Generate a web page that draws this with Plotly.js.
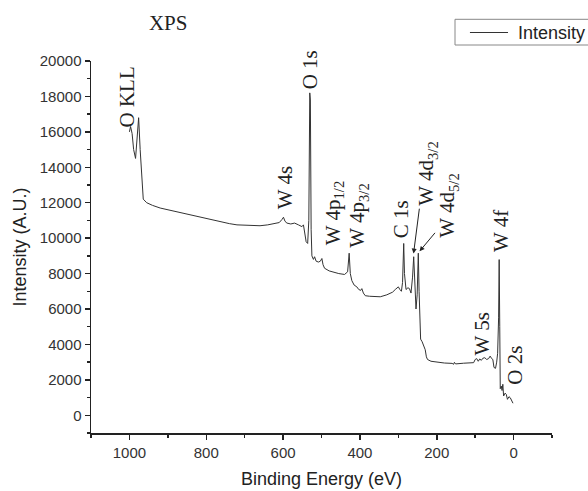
<!DOCTYPE html>
<html>
<head>
<meta charset="utf-8">
<script src="https://cdn.plot.ly/plotly-3.0.1.min.js"></script>
<style>html,body{margin:0;padding:0;background:#fff;}#chart{width:588px;height:491px;}</style>
</head>
<body>
<div id="chart"></div>
<script>
// Binding energy (eV) and intensity (A.U.)
const bindingEnergy = [
  1000, 997, 993, 989, 984, 980, 976, 972, 967, 964,
  955, 940, 920, 900, 880, 860, 840, 820, 800, 780,
  760, 740, 720, 700, 680, 660, 640, 620, 610, 603,
  599, 595, 590, 580, 570, 560, 551, 547, 544, 540,
  536, 533, 530.5, 529, 527, 525, 521, 518, 514, 508,
  503, 499, 496, 492, 480, 470, 455, 440, 432, 428,
  425, 421, 415, 408, 403, 398, 395, 391, 386, 375,
  360, 347, 330, 315, 308, 300, 296, 292, 289, 286,
  284, 280, 275, 271, 267, 263, 260, 257, 254, 251,
  248, 246, 244, 242, 238, 235, 233, 230, 227, 224,
  215, 200, 180, 160, 156, 154, 151, 130, 110, 104,
  100, 96, 92, 88, 84, 80, 75, 70, 65, 61,
  57, 54, 51, 47, 44, 41.5, 39, 37.5, 36, 34.7,
  32, 30, 28, 26, 22, 19, 16, 12, 8.6, 5, 1.6
];
const intensity = [
  16000, 16300, 15900, 15000, 14500, 15500, 16800, 15000, 12800, 12200,
  12000, 11850, 11700, 11600, 11500, 11420, 11320, 11200, 11100, 11000,
  10900, 10820, 10750, 10720, 10700, 10700, 10750, 10850, 10880, 11050,
  11180, 10950, 10850, 10800, 10850, 10750, 10650, 10750, 10300, 9800,
  9700, 11000, 18200, 17800, 10500, 9000, 8800, 8950, 8700, 8650,
  8700, 8850, 8500, 8300, 8150, 8080, 8000, 7950, 8100, 9150,
  8000, 7600, 7350, 7250, 7100, 7050, 7150, 6900, 6750, 6720,
  6700, 6690, 6800, 6950, 7100, 7250, 7100, 7000, 7500, 9700,
  8000, 7100, 7200, 7150, 6900, 7800, 8950, 7500, 6000, 6800,
  9150, 7000, 5000, 4300, 4150, 4000, 3900, 3700, 3300, 3150,
  3050, 3000, 2950, 2930, 2880, 2990, 2900, 2940, 2960, 2970,
  3150, 3200, 3050, 3180, 3100, 3220, 3250, 3150, 3200, 3340,
  3200, 3150, 2700, 2650, 3000, 3500, 5500, 8790, 5000, 1500,
  1650, 1400, 1750, 1090, 1250, 1180, 900, 1050, 990, 800, 680
];
const seriesName = "Intensity";

// Peak labels: text and label-centre position in data units
const peakLabels = ["O KLL", "W 4s", "O 1s", "W 4p<sub>1/2</sub>", "W 4p<sub>3/2</sub>", "C 1s",
                    "W 4d<sub>3/2</sub>", "W 4d<sub>5/2</sub>", "W 4f", "W 5s", "O 2s"];
const labelE = [1006, 594.5, 529, 468.7, 403.6, 293.2, 225.5, 169.3, 34.6, 82.3, -4.4];
const labelI = [17944, 12828, 19493, 11380, 11239, 11070, 13634, 11803, 10423, 4620, 2817];

// Pointer arrows (tail -> head) for the W 4d doublet
const arrowTailE = [244.8, 201.3];
const arrowTailI = [11747, 10383];
const arrowHeadE = [260.4, 244.8];
const arrowHeadI = [9127, 9256];

const serif = '"Times New Roman", "Liberation Serif", serif';
const sans = 'Arial, "Liberation Sans", sans-serif';

const annotations = peakLabels.map((t, i) => ({
  x: labelE[i], y: labelI[i], xref: 'x', yref: 'y',
  text: t, showarrow: false, textangle: -90,
  xanchor: 'center', yanchor: 'middle',
  font: {family: serif, size: 21, color: '#222'}
}));
arrowTailE.forEach((e, i) => {
  annotations.push({
    x: arrowHeadE[i], y: arrowHeadI[i], xref: 'x', yref: 'y',
    ax: e, ay: arrowTailI[i], axref: 'x', ayref: 'y',
    text: '', showarrow: true, arrowhead: 2, arrowsize: 1, arrowwidth: 1,
    arrowcolor: '#222'
  });
});
// Legend entry text (box drawn as shapes so it can run off the right edge as in the reference)
annotations.push({
  x: 0.922, y: 1.0766, xref: 'paper', yref: 'paper',
  text: seriesName, showarrow: false, xanchor: 'left', yanchor: 'middle',
  font: {family: sans, size: 18, color: '#222'}
});

const trace = {
  x: bindingEnergy, y: intensity, type: 'scatter', mode: 'lines',
  name: seriesName, showlegend: false,
  line: {color: '#333', width: 1}
};

const layout = {
  width: 588, height: 491,
  margin: {l: 91, r: 36, t: 61, b: 58},
  paper_bgcolor: '#fff', plot_bgcolor: '#fff',
  title: {text: 'XPS', font: {family: serif, size: 21, color: '#222'},
          x: 0.286, xanchor: 'center', y: 0.953, yanchor: 'middle'},
  showlegend: false,
  shapes: [
    {type: 'rect', xref: 'paper', yref: 'paper', x0: 0.7896, x1: 1.15, y0: 1.043, y1: 1.1121,
     line: {color: '#888', width: 1}, fillcolor: 'rgba(0,0,0,0)'},
    {type: 'line', xref: 'paper', yref: 'paper', x0: 0.822, x1: 0.9046, y0: 1.0766, y1: 1.0766,
     line: {color: '#333', width: 1}}
  ],
  xaxis: {
    range: [1100, -100], tick0: 0, dtick: 200, tickformat: 'd',
    ticks: 'outside', ticklen: 5, tickwidth: 1.5, tickcolor: '#222',
    minor: {dtick: 100, ticks: 'outside', ticklen: 3, tickwidth: 1.5, tickcolor: '#222'},
    showline: true, linecolor: '#222', linewidth: 1.5,
    showgrid: false, zeroline: false,
    tickfont: {family: sans, size: 15, color: '#333'},
    title: {text: 'Binding Energy (eV)', font: {family: sans, size: 18, color: '#222'}, standoff: 13}
  },
  yaxis: {
    range: [-1000, 20000], tick0: 0, dtick: 2000, tickformat: 'd',
    ticks: 'outside', ticklen: 5, tickwidth: 1.5, tickcolor: '#222',
    minor: {dtick: 1000, ticks: 'outside', ticklen: 3, tickwidth: 1.5, tickcolor: '#222'},
    showline: true, linecolor: '#222', linewidth: 1.5,
    showgrid: false, zeroline: false,
    tickfont: {family: sans, size: 15, color: '#333'},
    title: {text: 'Intensity (A.U.)', font: {family: sans, size: 18, color: '#222'}, standoff: 8}
  },
  annotations: annotations
};

Plotly.newPlot('chart', [trace], layout, {displayModeBar: false, staticPlot: true});
</script>
</body>
</html>
